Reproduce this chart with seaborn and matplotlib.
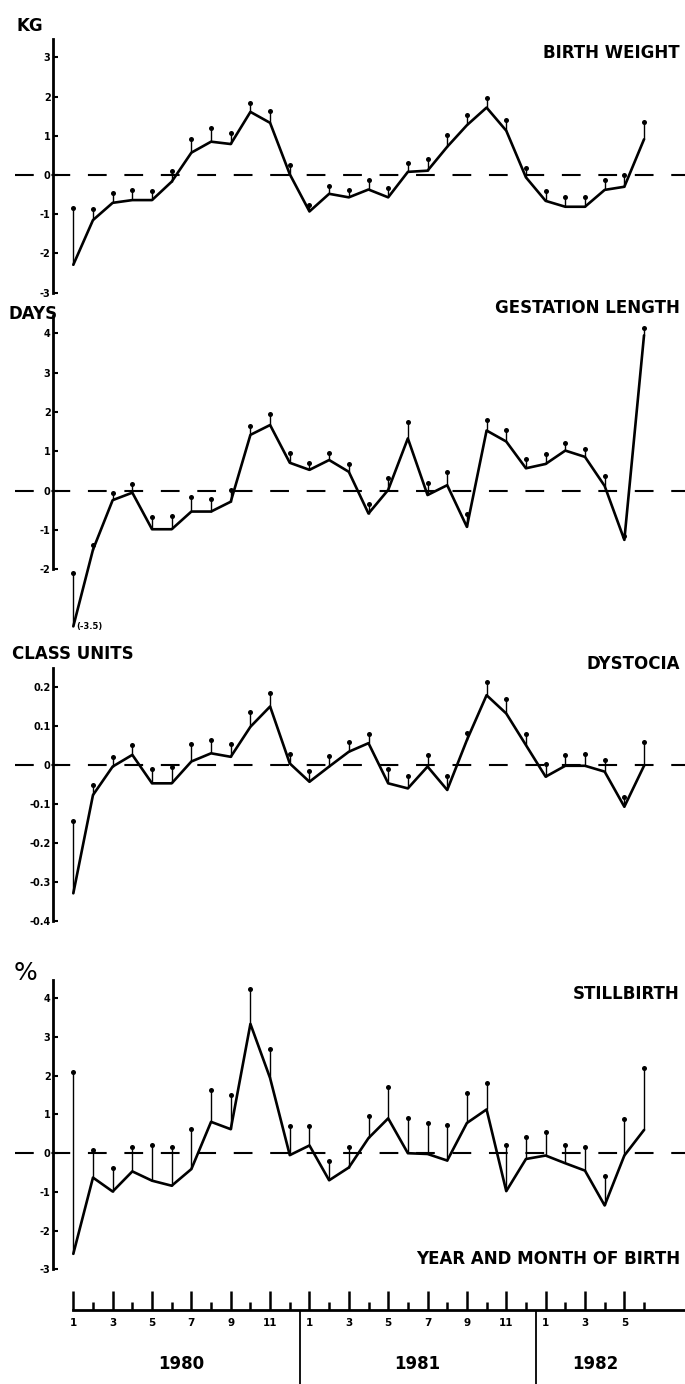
import numpy as np
import pandas as pd
import matplotlib
matplotlib.use("Agg")
import matplotlib.pyplot as plt
import seaborn as sns

# ---------------- data ----------------
years = [1980] * 12 + [1981] * 12 + [1982] * 6
months = [1, 2, 3, 4, 5, 6, 7, 8, 9, 10, 11, 12,
          1, 2, 3, 4, 5, 6, 7, 8, 9, 10, 11, 12,
          1, 2, 3, 4, 5, 6]

bw_est = [-2.29, -1.15, -0.71, -0.64, -0.64, -0.17, 0.57, 0.85, 0.79, 1.61,
          1.33, 0.02, -0.93, -0.48, -0.57, -0.37, -0.57, 0.08, 0.11, 0.72,
          1.27, 1.72, 1.13, -0.06, -0.66, -0.81, -0.81, -0.38, -0.30, 0.91]
bw_upper = [-0.85, -0.88, -0.47, -0.38, -0.40, 0.10, 0.92, 1.21, 1.08, 1.84,
            1.64, 0.26, -0.76, -0.28, -0.38, -0.14, -0.34, 0.31, 0.40, 1.02,
            1.53, 1.97, 1.40, 0.17, -0.40, -0.55, -0.55, -0.13, 0.00, 1.34]

gl_est = [-3.45, -1.50, -0.24, -0.05, -0.98, -0.98, -0.53, -0.53, -0.28, 1.42,
          1.67, 0.71, 0.53, 0.78, 0.48, -0.58, 0.02, 1.33, -0.11, 0.14,
          -0.92, 1.53, 1.25, 0.57, 0.68, 1.02, 0.86, 0.12, -1.25, 3.95]
gl_upper = [-2.10, -1.38, -0.05, 0.17, -0.68, -0.64, -0.17, -0.22, 0.03, 1.65,
            1.94, 0.97, 0.71, 0.95, 0.69, -0.35, 0.33, 1.75, 0.19, 0.47,
            -0.58, 1.80, 1.54, 0.80, 0.93, 1.22, 1.05, 0.37, -1.15, 4.13]
gl_note = "(-3.5)"

dy_est = [-0.329, -0.077, -0.004, 0.026, -0.047, -0.047, 0.009, 0.030, 0.021, 0.098,
          0.150, 0.004, -0.043, -0.004, 0.034, 0.056, -0.047, -0.060, -0.004, -0.064,
          0.064, 0.179, 0.132, 0.051, -0.030, -0.002, -0.002, -0.017, -0.107, -0.002]
dy_upper = [-0.144, -0.051, 0.021, 0.051, -0.011, -0.004, 0.053, 0.064, 0.054, 0.137,
            0.184, 0.028, -0.015, 0.024, 0.060, 0.079, -0.011, -0.027, 0.026, -0.027,
            0.083, 0.214, 0.168, 0.079, 0.002, 0.026, 0.028, 0.013, -0.081, 0.060]

sb_est = [-2.60, -0.63, -0.99, -0.47, -0.71, -0.84, -0.41, 0.81, 0.62, 3.34,
          1.94, -0.05, 0.20, -0.70, -0.37, 0.39, 0.90, 0.00, -0.02, -0.19,
          0.78, 1.13, -0.98, -0.15, -0.06, -0.26, -0.45, -1.35, -0.06, 0.60]
sb_upper = [2.10, 0.09, -0.39, 0.17, 0.21, 0.17, 0.62, 1.64, 1.50, 4.23,
            2.68, 0.70, 0.70, -0.19, 0.17, 0.96, 1.72, 0.90, 0.79, 0.72,
            1.56, 1.82, 0.20, 0.43, 0.54, 0.22, 0.17, -0.59, 0.89, 2.20]

bw_ticks = [-3, -2, -1, 0, 1, 2, 3]
bw_ticklabels = ["-3", "-2", "-1", "0", "1", "2", "3"]
gl_ticks = [-2, -1, 0, 1, 2, 3, 4]
gl_ticklabels = ["-2", "-1", "0", "1", "2", "3", "4"]
dy_ticks = [-0.4, -0.3, -0.2, -0.1, 0.0, 0.1, 0.2]
dy_ticklabels = ["-0.4", "-0.3", "-0.2", "-0.1", "0", "0.1", "0.2"]
sb_ticks = [-3, -2, -1, 0, 1, 2, 3, 4]
sb_ticklabels = ["-3", "-2", "-1", "0", "1", "2", "3", "4"]

# ---------------- style ----------------
sns.set_theme(style="white")
plt.rcParams["font.family"] = ["DejaVu Sans"]
plt.rcParams["axes.unicode_minus"] = False
plt.rcParams["text.color"] = "black"

W, H = 685, 1384
fig = plt.figure(figsize=(W / 100, H / 100), dpi=100)
fig.patch.set_facecolor("white")


def add_axes_px(left, top, right, bottom):
    return fig.add_axes([left / W, 1 - bottom / H, (right - left) / W, (bottom - top) / H])


x0_px, dx_px = 73.3, 19.68
x_left = (14.5 - x0_px) / dx_px
x_right = (685 - x0_px) / dx_px
spine_x = (53.3 - x0_px) / dx_px

idx = np.arange(len(months))

panels = [
    dict(est=bw_est, up=bw_upper, zero=175.0, unit=39.2, ylo=-3.0, yhi=3.46,
         slo=-3.0, ticks=bw_ticks, labels=bw_ticklabels),
    dict(est=gl_est, up=gl_upper, zero=490.7, unit=39.33, ylo=-3.55, yhi=4.44,
         slo=-2.0, ticks=gl_ticks, labels=gl_ticklabels),
    dict(est=dy_est, up=dy_upper, zero=765.0, unit=390.0, ylo=-0.4, yhi=0.248,
         slo=-0.4, ticks=dy_ticks, labels=dy_ticklabels),
    dict(est=sb_est, up=sb_upper, zero=1153.2, unit=38.71, ylo=-3.0, yhi=4.47,
         slo=-3.0, ticks=sb_ticks, labels=sb_ticklabels),
]

axes = []
for p in panels:
    top = p["zero"] - p["yhi"] * p["unit"]
    bot = p["zero"] - p["ylo"] * p["unit"]
    ax = add_axes_px(14.5, top, 685, bot)
    ax.set_facecolor("none")
    ax.set_xlim(x_left, x_right)
    ax.set_ylim(p["ylo"], p["yhi"])
    df = pd.DataFrame({"i": idx, "est": p["est"], "up": p["up"]})

    ax.axhline(0, color="black", lw=1.5, ls=(0, (9, 8.5)), zorder=1)
    ax.vlines(df["i"], df["est"], df["up"], color="black", lw=1.0, zorder=2)
    sns.lineplot(data=df, x="i", y="est", color="black", lw=1.9, ax=ax,
                 estimator=None, sort=False, zorder=3)
    sns.scatterplot(data=df, x="i", y="up", color="black", s=13, linewidth=0,
                    ax=ax, zorder=4)

    for s in ["top", "right", "bottom"]:
        ax.spines[s].set_visible(False)
    ax.spines["left"].set_position(("data", spine_x))
    ax.spines["left"].set_bounds(p["slo"], p["yhi"])
    ax.spines["left"].set_linewidth(2.0)
    ax.spines["left"].set_color("black")
    ax.set_xticks([])
    ax.set_yticks(p["ticks"])
    ax.set_yticklabels(p["labels"], fontsize=7, fontweight="bold")
    ax.tick_params(axis="y", direction="in", length=3.5, width=1.5, pad=2,
                   left=True, colors="black")
    ax.set_xlabel("")
    ax.set_ylabel("")
    axes.append(ax)

# off-scale note on gestation length
axes[1].annotate(gl_note, xy=(idx[0], gl_est[0]), xytext=(2, 0),
                 textcoords="offset points", ha="left", va="center",
                 fontsize=6, fontweight="bold", color="black")


def ftext(x, y, s, ha="left", size=12, weight="bold"):
    fig.text(x / W, 1 - y / H, s, ha=ha, va="baseline", fontsize=size,
             fontweight=weight, color="black")


ftext(16.5, 31, "KG")
ftext(680, 57.5, "BIRTH WEIGHT", ha="right")
ftext(8, 319, "DAYS")
ftext(680, 313, "GESTATION LENGTH", ha="right")
ftext(12, 659, "CLASS UNITS")
ftext(680, 669, "DYSTOCIA", ha="right")
ftext(14, 980, "%", size=18, weight="normal")
ftext(680, 999, "STILLBIRTH", ha="right")
ftext(680, 1264, "YEAR AND MONTH OF BIRTH", ha="right")

# ---------------- month / year axis ----------------
axm = add_axes_px(14.5, 1280, 685, 1384)
axm.set_facecolor("none")
axm.set_xlim(x_left, x_right)
axm.set_ylim(1384, 1280)
for s in ["top", "right", "left"]:
    axm.spines[s].set_visible(False)
axm.spines["bottom"].set_position(("data", 1310))
axm.spines["bottom"].set_bounds(0, x_right)
axm.spines["bottom"].set_linewidth(2.0)
axm.spines["bottom"].set_color("black")
months_arr = np.array(months)
major = idx[months_arr % 2 == 1]
minor = idx[months_arr % 2 == 0]
axm.set_xticks(major)
axm.set_xticklabels([str(m) for m in months_arr[major]], fontsize=7.5,
                    fontweight="bold")
axm.set_xticks(minor, minor=True)
axm.tick_params(axis="x", which="major", direction="in", length=14, width=1.8,
                pad=6, bottom=True, colors="black")
axm.tick_params(axis="x", which="minor", direction="in", length=6, width=1.8,
                bottom=True, colors="black")
axm.set_yticks([])

years_arr = np.array(years)
bounds = [i - 0.5 for i in idx[1:] if years_arr[i] != years_arr[i - 1]]
axm.vlines(bounds, 1310, 1384, color="black", lw=1.3)
for y in sorted(set(years)):
    axm.text(idx[years_arr == y].mean(), 1369, str(y), ha="center",
             va="baseline", fontsize=12, fontweight="bold", color="black")

fig.savefig("out.png", dpi=100)
